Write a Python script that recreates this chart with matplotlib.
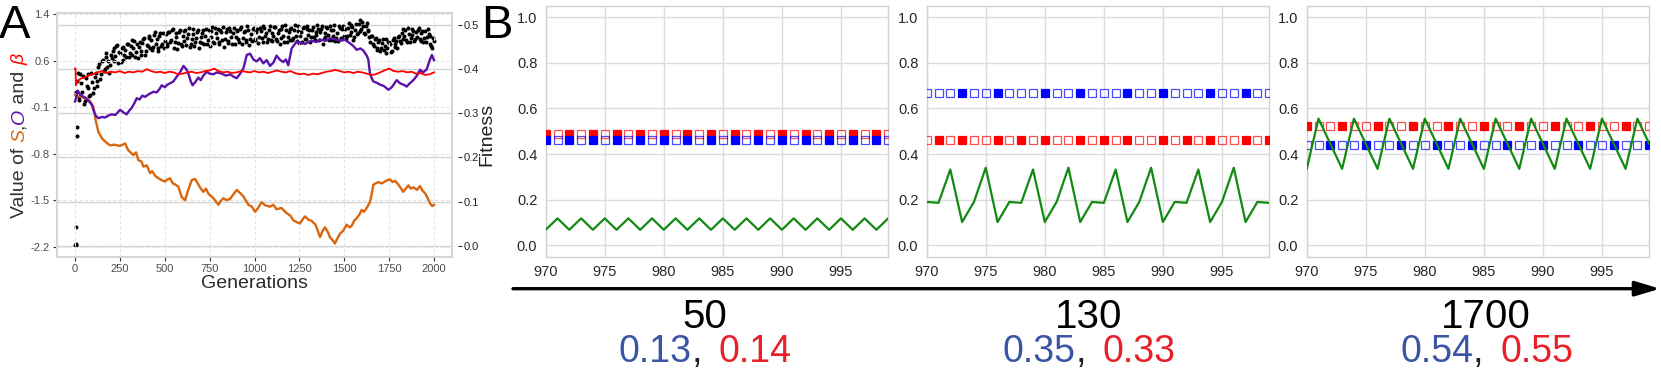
"""Panel A: trait trajectories and fitness over generations; panel B: fitness windows at three generations."""
import matplotlib
matplotlib.use("Agg")
import matplotlib.pyplot as plt
import numpy as np
from matplotlib.patches import FancyArrowPatch

W, H = 1661, 374
plt.rcParams["font.family"] = ["Liberation Sans", "DejaVu Sans"]
plt.rcParams["axes.unicode_minus"] = False

# ---------------- panel A data ----------------
FIT_EARLY_GEN = [1, 3, 5, 8, 12, 13]
FIT_EARLY = [0.001, 0.002, 0.004, 0.042, 0.249, 0.268]
FIT_GEN_A = np.arange(10, 2001, 10)
FIT_A = [
    0.372, 0.331, 0.388, 0.349, 0.322, 0.381, 0.357, 0.338, 0.392, 0.346,
    0.383, 0.362, 0.404, 0.377, 0.418, 0.396, 0.428, 0.405, 0.392, 0.431,
    0.441, 0.418, 0.452, 0.413, 0.436, 0.449, 0.421, 0.443, 0.458, 0.427,
    0.452, 0.431, 0.463, 0.438, 0.426, 0.461, 0.442, 0.468, 0.433, 0.455,
    0.471, 0.448, 0.443, 0.478, 0.457, 0.441, 0.474, 0.452, 0.481, 0.463,
    0.452, 0.483, 0.461, 0.488, 0.449, 0.472, 0.446, 0.485, 0.458, 0.476,
    0.487, 0.455, 0.479, 0.451, 0.468, 0.491, 0.462, 0.483, 0.449, 0.473,
    0.482, 0.458, 0.492, 0.466, 0.452, 0.486, 0.461, 0.494, 0.471, 0.456,
    0.489, 0.467, 0.451, 0.484, 0.459, 0.493, 0.472, 0.481, 0.457, 0.488,
    0.469, 0.491, 0.458, 0.483, 0.466, 0.497, 0.455, 0.479, 0.492, 0.468,
    0.484, 0.459, 0.493, 0.471, 0.498, 0.476, 0.461, 0.489, 0.467, 0.482,
    0.496, 0.468, 0.481, 0.458, 0.492, 0.474, 0.499, 0.462, 0.485, 0.491,
    0.467, 0.488, 0.476, 0.497, 0.459, 0.483, 0.494, 0.469, 0.498, 0.477,
    0.461, 0.489, 0.472, 0.484, 0.499, 0.466, 0.492, 0.458, 0.481, 0.495,
    0.478, 0.497, 0.465, 0.489, 0.463, 0.482, 0.498, 0.471, 0.491, 0.476,
    0.469, 0.493, 0.478, 0.501, 0.467, 0.488, 0.479, 0.503, 0.486, 0.507,
    0.481, 0.498, 0.489, 0.472, 0.476, 0.458, 0.468, 0.449, 0.462, 0.441,
    0.459, 0.443, 0.468, 0.447, 0.461, 0.439, 0.466, 0.451, 0.463, 0.472,
    0.463, 0.482, 0.468, 0.489, 0.461, 0.479, 0.471, 0.491, 0.464, 0.484,
    0.488, 0.469, 0.482, 0.461, 0.487, 0.472, 0.479, 0.458, 0.449, 0.463,
]
FIT_GEN_B = np.arange(5, 2000, 10)
FIT_B = [
    0.348, 0.391, 0.336, 0.368, 0.384, 0.327, 0.362, 0.389, 0.341, 0.371,
    0.358, 0.391, 0.372, 0.412, 0.389, 0.421, 0.401, 0.436, 0.418, 0.409,
    0.426, 0.447, 0.429, 0.454, 0.438, 0.417, 0.451, 0.432, 0.428, 0.456,
    0.437, 0.466, 0.449, 0.428, 0.458, 0.451, 0.432, 0.459, 0.471, 0.441,
    0.452, 0.476, 0.466, 0.451, 0.483, 0.469, 0.449, 0.481, 0.458, 0.447,
    0.479, 0.457, 0.484, 0.466, 0.491, 0.461, 0.482, 0.459, 0.489, 0.452,
    0.464, 0.489, 0.471, 0.493, 0.458, 0.479, 0.452, 0.471, 0.488, 0.462,
    0.459, 0.489, 0.474, 0.457, 0.488, 0.472, 0.496, 0.459, 0.482, 0.491,
    0.462, 0.485, 0.496, 0.468, 0.491, 0.463, 0.486, 0.458, 0.493, 0.473,
    0.486, 0.462, 0.495, 0.471, 0.487, 0.461, 0.489, 0.468, 0.463, 0.494,
    0.467, 0.492, 0.473, 0.487, 0.462, 0.494, 0.482, 0.469, 0.497, 0.463,
    0.474, 0.495, 0.463, 0.489, 0.471, 0.498, 0.461, 0.488, 0.472, 0.466,
    0.493, 0.471, 0.499, 0.463, 0.486, 0.474, 0.461, 0.496, 0.468, 0.491,
    0.488, 0.473, 0.496, 0.465, 0.478, 0.492, 0.483, 0.497, 0.468, 0.473,
    0.494, 0.466, 0.489, 0.476, 0.499, 0.471, 0.464, 0.493, 0.468, 0.497,
    0.491, 0.474, 0.505, 0.483, 0.496, 0.472, 0.502, 0.481, 0.511, 0.492,
    0.497, 0.479, 0.505, 0.486, 0.462, 0.474, 0.452, 0.471, 0.444, 0.466,
    0.448, 0.469, 0.453, 0.437, 0.462, 0.457, 0.442, 0.471, 0.458, 0.447,
    0.476, 0.459, 0.491, 0.476, 0.467, 0.493, 0.462, 0.478, 0.487, 0.469,
    0.472, 0.493, 0.464, 0.486, 0.471, 0.462, 0.491, 0.474, 0.452, 0.471,
]

BETA_GEN = [0, 3, 5, 10, 30, 60, 80] + list(range(100, 2001, 25))
BETA = [
    0.56, 0.56, 0.30, 0.35, 0.40, 0.43, 0.46,
    0.47, 0.50, 0.52, 0.49, 0.51, 0.50, 0.52, 0.49, 0.51, 0.50,
    0.52, 0.51, 0.55, 0.52, 0.50, 0.51, 0.49, 0.51, 0.50, 0.47,
    0.48, 0.50, 0.51, 0.49, 0.50, 0.52, 0.53, 0.56, 0.52, 0.50,
    0.51, 0.49, 0.50, 0.52, 0.51, 0.50, 0.52, 0.50, 0.51, 0.49,
    0.51, 0.53, 0.51, 0.50, 0.52, 0.49, 0.47, 0.48, 0.46, 0.48,
    0.47, 0.49, 0.51, 0.52, 0.54, 0.52, 0.50, 0.51, 0.49, 0.51,
    0.50, 0.48, 0.46, 0.47, 0.50, 0.53, 0.56, 0.52, 0.51, 0.52,
    0.50, 0.51, 0.48, 0.49, 0.46, 0.47, 0.50,
]

O_GEN = [0, 8, 15, 30, 56, 75, 93, 105, 115, 130, 150, 167, 185, 204, 225, 251, 270, 288,
         300, 316, 330, 344, 360, 375, 390, 410, 437, 455, 470, 483, 500, 515, 529, 548,
         566, 585, 604, 620, 632, 645, 655, 670, 687, 700, 715, 734, 750, 771, 790, 817,
         840, 864, 885, 901, 920, 938, 957, 975, 994, 1012, 1030, 1049, 1068, 1086, 1105,
         1123, 1140, 1160, 1175, 1188, 1207, 1220, 1235, 1254, 1281, 1300, 1318, 1346,
         1365, 1374, 1400, 1420, 1440, 1476, 1500, 1532, 1550, 1569, 1590, 1606, 1625,
         1634, 1643, 1653, 1662, 1680, 1699, 1720, 1746, 1765, 1792, 1811, 1830, 1848,
         1865, 1885, 1905, 1922, 1940, 1960, 1975, 1988, 2000]
O_VAL = [0.05, 0.12, 0.22, 0.15, 0.11, 0.06, 0.0, -0.10, -0.17, -0.21, -0.19, -0.20, -0.17,
         -0.15, -0.16, -0.08, -0.12, -0.15, -0.10, -0.05, 0.02, 0.10, 0.08, 0.14, 0.12, 0.16,
         0.20, 0.19, 0.24, 0.30, 0.27, 0.31, 0.33, 0.36, 0.43, 0.50, 0.60, 0.55, 0.48, 0.36,
         0.30, 0.35, 0.42, 0.38, 0.45, 0.51, 0.48, 0.47, 0.50, 0.48, 0.45, 0.47, 0.43, 0.41,
         0.48, 0.56, 0.77, 0.79, 0.70, 0.67, 0.72, 0.64, 0.69, 0.60, 0.65, 0.76, 0.70, 0.66,
         0.70, 0.61, 0.87, 0.92, 0.98, 0.96, 0.94, 0.97, 0.99, 0.97, 1.01, 1.00, 0.99, 1.03,
         1.02, 0.99, 1.01, 0.95, 0.91, 0.85, 0.87, 0.84, 0.76, 0.70, 0.49, 0.41, 0.36, 0.34,
         0.31, 0.29, 0.23, 0.27, 0.38, 0.33, 0.31, 0.28, 0.33, 0.38, 0.45, 0.54, 0.50, 0.55,
         0.68, 0.77, 0.69]

S_GEN = [0, 9, 30, 50, 65, 85, 102, 108, 115, 130, 150, 167, 180, 195, 220, 251, 279, 295,
         306, 325, 340, 353, 370, 381, 400, 418, 430, 446, 465, 483, 500, 515, 529, 545, 560,
         576, 594, 613, 630, 650, 668, 678, 696, 715, 730, 743, 771, 799, 810, 826, 845, 864,
         885, 901, 920, 938, 966, 985, 1003, 1020, 1040, 1060, 1086, 1105, 1123, 1150, 1179,
         1200, 1216, 1235, 1253, 1270, 1281, 1300, 1318, 1340, 1365, 1380, 1393, 1410, 1420,
         1435, 1448, 1460, 1476, 1495, 1513, 1530, 1541, 1555, 1569, 1585, 1597, 1610, 1625,
         1643, 1652, 1662, 1675, 1690, 1710, 1727, 1740, 1755, 1770, 1783, 1802, 1829, 1843,
         1857, 1870, 1885, 1905, 1922, 1935, 1950, 1965, 1978, 1990, 2000]
S_VAL = [0.15, 0.12, 0.13, 0.10, 0.10, 0.05, -0.03, -0.12, -0.24, -0.42, -0.52, -0.57, -0.60,
         -0.63, -0.62, -0.64, -0.60, -0.70, -0.73, -0.78, -0.74, -0.86, -0.88, -0.96, -0.94,
         -1.06, -1.03, -1.10, -1.14, -1.17, -1.19, -1.16, -1.14, -1.22, -1.24, -1.27, -1.43,
         -1.48, -1.33, -1.17, -1.15, -1.19, -1.28, -1.35, -1.30, -1.38, -1.45, -1.55, -1.50,
         -1.45, -1.48, -1.46, -1.38, -1.32, -1.37, -1.42, -1.55, -1.58, -1.66, -1.60, -1.51,
         -1.56, -1.58, -1.55, -1.62, -1.60, -1.68, -1.72, -1.79, -1.82, -1.84, -1.77, -1.73,
         -1.78, -1.80, -1.86, -2.05, -1.95, -1.90, -1.98, -2.05, -2.10, -2.15, -2.08, -2.00,
         -1.95, -1.86, -1.90, -1.88, -1.80, -1.76, -1.70, -1.63, -1.66, -1.60, -1.51, -1.40,
         -1.24, -1.22, -1.20, -1.22, -1.19, -1.17, -1.16, -1.20, -1.18, -1.24, -1.35, -1.30,
         -1.25, -1.30, -1.28, -1.32, -1.26, -1.33, -1.37, -1.45, -1.53, -1.57, -1.55]

A_LEFT_TICKS = ["-2.2", "-1.5", "-0.8", "-0.1", "0.6", "1.4"]
A_XTICKS = [0, 250, 500, 750, 1000, 1250, 1500, 1750, 2000]

# ---------------- panel B data ----------------
WINDOW = np.arange(970, 1000)
PANEL_GEN = ["50", "130", "1700"]
PANEL_BLUE_VAL = ["0.13", "0.35", "0.54"]
PANEL_RED_VAL = ["0.14", "0.33", "0.55"]
RED_LEVEL = [0.487, 0.463, 0.522]
BLUE_LEVEL = [0.463, 0.668, 0.439]
GREEN = [
    [0.068, 0.118, 0.068, 0.118, 0.068, 0.118, 0.068, 0.118, 0.068, 0.118,
     0.068, 0.118, 0.068, 0.118, 0.068, 0.118, 0.068, 0.118, 0.068, 0.118,
     0.068, 0.118, 0.068, 0.118, 0.068, 0.118, 0.068, 0.118, 0.068, 0.118],
    [0.190, 0.186, 0.332, 0.102, 0.190, 0.340, 0.102, 0.190, 0.186, 0.332,
     0.102, 0.190, 0.340, 0.102, 0.190, 0.186, 0.332, 0.102, 0.190, 0.340,
     0.102, 0.190, 0.186, 0.332, 0.102, 0.190, 0.340, 0.102, 0.190, 0.186],
    [0.335, 0.555, 0.445, 0.335, 0.555, 0.445, 0.335, 0.555, 0.445, 0.335,
     0.555, 0.445, 0.335, 0.555, 0.445, 0.335, 0.555, 0.445, 0.335, 0.555,
     0.445, 0.335, 0.555, 0.445, 0.335, 0.555, 0.445, 0.335, 0.555, 0.445],
]
# 1 = filled square, 0 = open square
RED_FILLED = [
    [1, 0, 1, 0, 1, 0, 1, 0, 1, 0, 1, 0, 1, 0, 1, 0, 1, 0, 1, 0, 1, 0, 1, 0, 1, 0, 1, 0, 1, 0],
    [0, 1, 0, 1, 0, 0, 1, 0, 1, 0, 1, 0, 0, 1, 0, 1, 0, 1, 0, 0, 1, 0, 1, 0, 1, 0, 0, 1, 0, 1],
    [1, 0, 0, 1, 0, 0, 1, 0, 0, 1, 0, 0, 1, 0, 0, 1, 0, 0, 1, 0, 0, 1, 0, 0, 1, 0, 0, 1, 0, 0],
]
BLUE_FILLED = [
    [1, 0, 1, 0, 1, 0, 1, 0, 1, 0, 1, 0, 1, 0, 1, 0, 1, 0, 1, 0, 1, 0, 1, 0, 1, 0, 1, 0, 1, 0],
    [0, 0, 0, 1, 0, 0, 1, 0, 0, 0, 1, 0, 0, 1, 0, 0, 0, 1, 0, 0, 1, 0, 0, 0, 1, 0, 0, 1, 0, 0],
    [0, 0, 1, 0, 0, 1, 0, 0, 1, 0, 0, 1, 0, 0, 1, 0, 0, 1, 0, 0, 1, 0, 0, 1, 0, 0, 1, 0, 0, 1],
]

ORANGE, PURPLE = "#d9650c", "#5a12a8"
TXT_BLUE, TXT_RED = "#3b55a5", "#e8202a"


def _frac(x, y):
    """image pixel (x from left, y from top) -> figure fraction"""
    return x / W, 1 - y / H


def _panel_a(fig):
    ax = fig.add_axes([56.7 / W, 1 - 256.7 / H, 395.6 / W, 243.4 / H])
    ax2 = ax.twinx()
    ax.set_zorder(ax2.get_zorder() + 1)
    ax.patch.set_visible(False)

    for gens, vals in ((FIT_GEN_A, FIT_A), (FIT_GEN_B, FIT_B), (FIT_EARLY_GEN, FIT_EARLY)):
        ax2.plot(gens, vals, "o", color="black", ms=2.9, mew=0)
    ax.plot(S_GEN, S_VAL, color=ORANGE, lw=1.7)
    ax.plot(O_GEN, O_VAL, color=PURPLE, lw=1.7)
    ax.plot(BETA_GEN, BETA, color="#ff0000", lw=1.3)

    ax.set_xlim(-102, 2102)
    ax.set_ylim(-2.355, 1.415)
    ax2.set_ylim(-0.025, 0.5265)
    ax.set_xticks(A_XTICKS)
    ax.set_yticks(np.linspace(-2.2, 1.4, 6), A_LEFT_TICKS)
    ax2.set_yticks([0, 0.1, 0.2, 0.3, 0.4, 0.5], ["0.0", "0.1", "0.2", "0.3", "0.4", "0.5"])

    ax.grid(True, ls=(0, (3, 2)), color="#e4e4e4", lw=0.8)
    ax2.grid(True, axis="y", color="#d4d4d4", lw=1.0)
    ax.tick_params(labelsize=8, labelcolor="#4d4d4d", color="#333333", length=3, width=0.8, pad=2)
    ax2.tick_params(labelsize=8, labelcolor="#222222", color="#333333", length=3, width=0.8, pad=1.5)
    for spine in ax.spines.values():
        spine.set_color("#d6d6d6")
        spine.set_linewidth(1.5)
    for spine in ax2.spines.values():
        spine.set_visible(False)
    ax2.spines["right"].set_position(("outward", 4))

    ax.set_xlabel("Generations", fontsize=14, color="#2b2b2b", labelpad=1)


def _panel_b(fig):
    lefts = [545.7, 926.7, 1306.7]
    for i, left in enumerate(lefts):
        ax = fig.add_axes([left / W, 1 - 256.7 / H, 342.5 / W, 251.0 / H])
        red_f = np.array(RED_FILLED[i], dtype=bool)
        blue_f = np.array(BLUE_FILLED[i], dtype=bool)
        red_y = np.full(len(WINDOW), RED_LEVEL[i])
        blue_y = np.full(len(WINDOW), BLUE_LEVEL[i])
        for ys, filled, col in ((red_y, red_f, "#ff0000"), (blue_y, blue_f, "#0000ff")):
            ax.plot(WINDOW[~filled], ys[~filled], "s", ms=6.3, mfc="none", mec=col, mew=0.9,
                    alpha=0.7, zorder=3)
            ax.plot(WINDOW[filled], ys[filled], "s", ms=6.3, color=col, mec=col, mew=0.9, zorder=3)
        ax.plot(WINDOW, GREEN[i], color="#128a12", lw=1.6, zorder=4)

        ax.set_xlim(970, 999)
        ax.set_ylim(-0.05, 1.05)
        ax.set_xticks([970, 975, 980, 985, 990, 995])
        ax.set_yticks([0, 0.2, 0.4, 0.6, 0.8, 1.0], ["0.0", "0.2", "0.4", "0.6", "0.8", "1.0"])
        ax.set_axisbelow(True)
        ax.grid(True, color="#dcdcdc", lw=1.0)
        ax.tick_params(length=0, labelsize=10.5, labelcolor="#262626", pad=6)
        for spine in ax.spines.values():
            spine.set_color("#d2d2d2")
            spine.set_linewidth(1.0)


def _ylabel_a(fig, renderer):
    pieces = [("Value of ", "#333333", "normal"), ("S", ORANGE, "italic"), (",", "#333333", "normal"),
              ("O", PURPLE, "italic"), (" and ", "#333333", "normal"), ("β", "#ff0000", "italic")]
    y = H - 218.0
    for s, col, style in pieces:
        t = fig.text(24.0 / W, y / H, s, rotation=90, rotation_mode="anchor", ha="left", va="baseline",
                     fontsize=14, color=col, fontstyle=style)
        box = t.get_window_extent(renderer)
        y += box.height


def _bottom_text(fig):
    arrow = FancyArrowPatch(_frac(513, 288.7), _frac(1660, 288.7), transform=fig.transFigure,
                            arrowstyle="-|>,head_length=1.5,head_width=0.45", mutation_scale=10,
                            lw=2.4, color="black", shrinkA=0, shrinkB=0)
    fig.add_artist(arrow)
    centers = [705, 1089, 1486]
    for c, gen, bv, rv in zip(centers, PANEL_GEN, PANEL_BLUE_VAL, PANEL_RED_VAL):
        fig.text(*_frac(c, 327.5), gen, fontsize=29, ha="center", va="baseline", color="black")
        fig.text(*_frac(c - 13, 362), bv, fontsize=27, ha="right", va="baseline", color=TXT_BLUE)
        fig.text(*_frac(c - 13, 362), ",", fontsize=27, ha="left", va="baseline", color="#222222")
        fig.text(*_frac(c + 14, 362), rv, fontsize=27, ha="left", va="baseline", color=TXT_RED)


def main():
    fig = plt.figure(figsize=(W / 100, H / 100), dpi=100)
    _panel_a(fig)
    _panel_b(fig)
    renderer = fig.canvas.get_renderer()
    _ylabel_a(fig, renderer)
    fig.text(*_frac(487, 134), "Fitness", rotation=90, fontsize=14, ha="center", va="center", color="#222222")
    fig.text(*_frac(-1, 38), "A", fontsize=34, ha="left", va="baseline")
    fig.text(*_frac(481, 38), "B", fontsize=34, ha="left", va="baseline")
    _bottom_text(fig)
    fig.savefig("out.png", dpi=100)


if __name__ == "__main__":
    main()
